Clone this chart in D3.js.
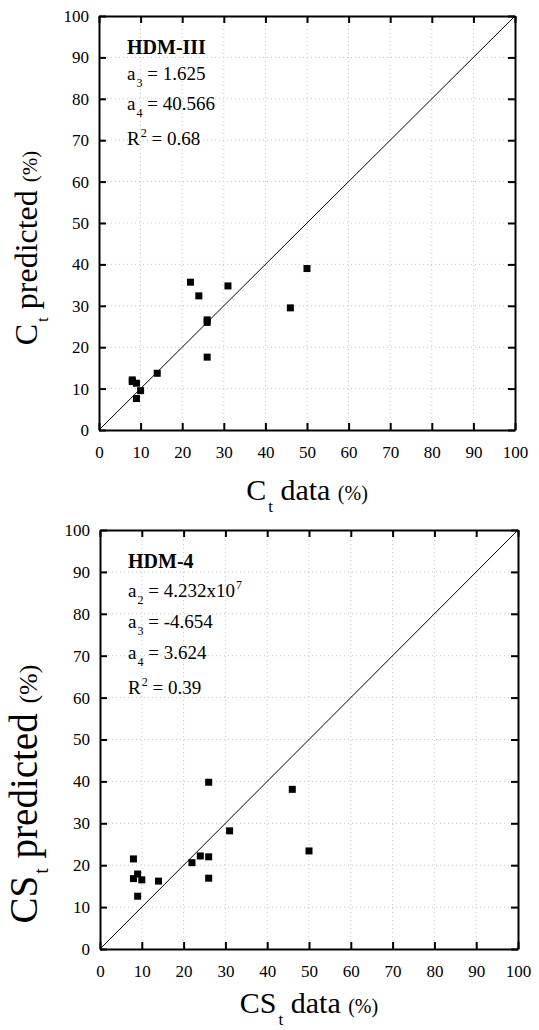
<!DOCTYPE html>
<html>
<head>
<meta charset="utf-8">
<script src="https://cdn.jsdelivr.net/npm/d3@7"></script>
<style>
  html, body { margin: 0; padding: 0; background: #fff; }
  svg { display: block; }
  svg text, svg tspan { font-family: "Liberation Serif", "Tinos", "Times New Roman", "Times", "DejaVu Serif", serif !important; fill: #000; }
</style>
</head>
<body>
<svg id="chart" width="539" height="1030"></svg>
<script>
// ---------- DATA ----------
const tickValues = [0, 10, 20, 30, 40, 50, 60, 70, 80, 90, 100];
const ctData = [8, 8, 9, 9, 10, 14, 22, 24, 26, 26, 26, 31, 46, 50];
const ctPredictedHDM3 = [12.1, 11.7, 11.3, 7.6, 9.5, 13.7, 35.7, 32.4, 26.6, 26.0, 17.6, 34.8, 29.5, 39.0];
const cstPredictedHDM4 = [21.5, 16.8, 17.9, 12.6, 16.5, 16.2, 20.6, 22.2, 39.8, 22.0, 16.9, 28.2, 38.1, 23.4];
const hdm3Notes = [
  [["HDM-III", "bold"]],
  [["a", "n"], ["3", "sub"], [" = 1.625", "n"]],
  [["a", "n"], ["4", "sub"], [" = 40.566", "n"]],
  [["R", "n"], ["2", "sup"], [" = 0.68", "n"]]
];
const hdm4Notes = [
  [["HDM-4", "bold"]],
  [["a", "n"], ["2", "sub"], [" = 4.232x10", "n"], ["7", "sup"]],
  [["a", "n"], ["3", "sub"], [" = -4.654", "n"]],
  [["a", "n"], ["4", "sub"], [" = 3.624", "n"]],
  [["R", "n"], ["2", "sup"], [" = 0.39", "n"]]
];
const topXTitle = [["C", "big"], ["t", "tsub"], [" data ", "big"], ["(%)", "pct"]];
const topYTitle = [["C", "big"], ["t", "tsub"], [" predicted ", "big"], ["(%)", "pct"]];
const botXTitle = [["CS", "big"], ["t", "tsub"], [" data ", "big"], ["(%)", "pct"]];
const botYTitle = [["CS", "big"], ["t", "tsub"], [" predicted ", "big"], ["(%)", "pct"]];

// ---------- LAYOUT ----------
const noteStyles = {
  bold: { size: 20, weight: "bold" },
  n: { size: 19 },
  sub: { size: 12, shift: 7, dx: 1 },
  sup: { size: 12, shift: -8, dx: 1 }
};
const xTitleStyles = {
  big: { size: 30 },
  tsub: { size: 17, shift: 12, dx: 2 },
  pct: { size: 20 }
};
const yTitleTopStyles = {
  big: { size: 32 },
  tsub: { size: 17, shift: 11, dx: 2 },
  pct: { size: 21 }
};
const yTitleBotStyles = {
  big: { size: 39 },
  tsub: { size: 20, shift: 11, dx: 2 },
  pct: { size: 26 }
};

const panels = [
  { x0: 99, x1: 515, y0: 430, y1: 16, pred: ctPredictedHDM3, notes: hdm3Notes,
    noteY: [54, 80, 110, 145], xTitle: topXTitle, yTitle: topYTitle,
    xTitleY: 500, yTitleX: 37, yTitleC: 248, yStyles: yTitleTopStyles },
  { x0: 100, x1: 518, y0: 949, y1: 530, pred: cstPredictedHDM4, notes: hdm4Notes,
    noteY: [568, 597, 628, 659, 694], xTitle: botXTitle, yTitle: botYTitle,
    xTitleY: 1013, yTitleX: 37, yTitleC: 794, yStyles: yTitleBotStyles }
];

const svg = d3.select("#chart");

function addRich(textSel, parts, styles) {
  let shift = 0;
  parts.forEach(([str, kind]) => {
    const st = styles[kind];
    const ts = textSel.append("tspan").text(str)
      .attr("font-size", st.size)
      .attr("font-weight", st.weight || "normal");
    const target = st.shift || 0;
    const dy = target - shift;
    if (dy !== 0) ts.attr("dy", dy);
    if (st.dx) ts.attr("dx", st.dx);
    shift = target;
  });
  textSel.style("white-space", "pre");
}

panels.forEach(p => {
  const x = d3.scaleLinear().domain([0, 100]).range([p.x0, p.x1]);
  const y = d3.scaleLinear().domain([0, 100]).range([p.y0, p.y1]);
  const g = svg.append("g");

  // grid
  g.append("g").selectAll("line").data(tickValues.slice(1, -1)).join("line")
    .attr("x1", d => x(d)).attr("x2", d => x(d))
    .attr("y1", p.y0).attr("y2", p.y1)
    .attr("stroke", "#c8c8c8").attr("stroke-width", 1).attr("stroke-dasharray", "1,3");
  g.append("g").selectAll("line").data(tickValues.slice(1, -1)).join("line")
    .attr("y1", d => y(d)).attr("y2", d => y(d))
    .attr("x1", p.x0).attr("x2", p.x1)
    .attr("stroke", "#c8c8c8").attr("stroke-width", 1).attr("stroke-dasharray", "1,3");

  // axes (ticks inward)
  const fmt = d3.format("d");
  const axB = g.append("g").attr("transform", `translate(0,${p.y0})`)
    .call(d3.axisBottom(x).tickValues(tickValues).tickFormat(fmt).tickSizeInner(-7).tickSizeOuter(0).tickPadding(16));
  const axT = g.append("g").attr("transform", `translate(0,${p.y1})`)
    .call(d3.axisTop(x).tickValues(tickValues).tickFormat("").tickSizeInner(-7).tickSizeOuter(0));
  const axL = g.append("g").attr("transform", `translate(${p.x0},0)`)
    .call(d3.axisLeft(y).tickValues(tickValues).tickFormat(fmt).tickSizeInner(-7).tickSizeOuter(0).tickPadding(10));
  const axR = g.append("g").attr("transform", `translate(${p.x1},0)`)
    .call(d3.axisRight(y).tickValues(tickValues).tickFormat("").tickSizeInner(-7).tickSizeOuter(0));
  [axB, axT, axL, axR].forEach(a => {
    a.attr("font-family", null);
    a.select(".domain").attr("stroke", "#000").attr("stroke-width", 2);
    a.selectAll(".tick line").attr("stroke", "#000").attr("stroke-width", 2);
    a.selectAll(".tick text").attr("font-size", 17).attr("fill", "#000");
  });

  // 1:1 line
  g.append("line")
    .attr("x1", x(0)).attr("y1", y(0)).attr("x2", x(100)).attr("y2", y(100))
    .attr("stroke", "#000").attr("stroke-width", 1);

  // points
  const pts = ctData.map((d, i) => ({ xv: d, yv: p.pred[i] }));
  g.append("g").selectAll("rect").data(pts).join("rect")
    .attr("x", d => x(d.xv) - 3.5).attr("y", d => y(d.yv) - 3.5)
    .attr("width", 7).attr("height", 7).attr("fill", "#000");

  // annotations
  p.notes.forEach((line, i) => {
    const t = g.append("text").attr("x", p.x0 + 28).attr("y", p.noteY[i]);
    addRich(t, line, noteStyles);
  });

  // x title
  const xt = g.append("text").attr("x", (p.x0 + p.x1) / 2).attr("y", p.xTitleY)
    .attr("text-anchor", "middle");
  addRich(xt, p.xTitle, xTitleStyles);

  // y title
  const yt = g.append("text")
    .attr("transform", `translate(${p.yTitleX},${p.yTitleC}) rotate(-90)`)
    .attr("text-anchor", "middle");
  addRich(yt, p.yTitle, p.yStyles);
});
</script>
</body>
</html>
